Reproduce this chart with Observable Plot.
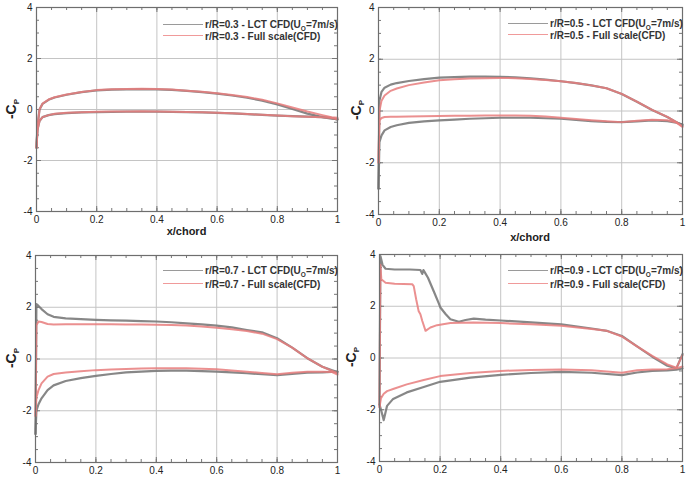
<!DOCTYPE html>
<html><head><meta charset="utf-8">
<script src="https://cdn.jsdelivr.net/npm/d3@7"></script>
<script src="https://cdn.jsdelivr.net/npm/@observablehq/plot@0.6"></script>
<style>
body{margin:0;background:#fff;}
#root{position:relative;width:690px;height:482px;overflow:hidden;font-family:"Liberation Sans",Arial,sans-serif;background:#fff;}
.panel{position:absolute;}
.ylab{position:absolute;transform:translate(-50%,-50%) rotate(-90deg);font-weight:bold;font-size:14px;color:#222;white-space:nowrap;}
.ylab sub{font-size:8px;}
.xlab{position:absolute;transform:translate(-50%,-50%);font-weight:bold;font-size:11px;color:#222;white-space:nowrap;}
.leg{position:absolute;font-size:10px;font-weight:bold;color:#333;white-space:nowrap;transform:translateY(-50%);}
.leg sub{font-size:6.5px;}
.legline{position:absolute;height:0;border-top:1px solid;}
</style>
</head><body>
<div id="root"></div>
<script>
// ---- data ----
const X = [0, 0.003, 0.01, 0.02, 0.04, 0.06, 0.1, 0.15, 0.2, 0.25, 0.3, 0.35, 0.4, 0.45, 0.5, 0.55, 0.6, 0.65, 0.7, 0.75, 0.8, 0.85, 0.9, 0.95, 0.98, 1.0];

// r/R = 0.3
const r03_lct_upper  = [-1.5, -0.7, 0.0, 0.22, 0.38, 0.47, 0.58, 0.68, 0.75, 0.78, 0.79, 0.8, 0.79, 0.77, 0.73, 0.68, 0.62, 0.55, 0.46, 0.35, 0.2, 0.02, -0.16, -0.3, -0.36, -0.38];
const r03_full_upper = [-1.5, -0.7, 0.0, 0.23, 0.39, 0.48, 0.59, 0.69, 0.76, 0.79, 0.8, 0.81, 0.8, 0.78, 0.74, 0.7, 0.64, 0.57, 0.49, 0.38, 0.24, 0.08, -0.08, -0.22, -0.3, -0.32];
const r03_lct_lower  = [-1.5, -0.8, -0.45, -0.3, -0.22, -0.18, -0.14, -0.11, -0.1, -0.09, -0.08, -0.08, -0.08, -0.09, -0.1, -0.11, -0.13, -0.15, -0.18, -0.21, -0.24, -0.26, -0.28, -0.3, -0.33, -0.4];
const r03_full_lower = [-1.5, -0.8, -0.45, -0.3, -0.22, -0.17, -0.13, -0.11, -0.09, -0.08, -0.08, -0.07, -0.08, -0.09, -0.1, -0.11, -0.13, -0.15, -0.18, -0.21, -0.24, -0.26, -0.28, -0.3, -0.33, -0.38];

// r/R = 0.5
const r05_lct_upper  = [-3.0, 0.4, 0.74, 0.9, 1.02, 1.08, 1.16, 1.23, 1.29, 1.31, 1.33, 1.33, 1.32, 1.3, 1.26, 1.21, 1.15, 1.08, 0.99, 0.88, 0.66, 0.36, 0.04, -0.23, -0.43, -0.55];
const r05_full_upper = [-2.0, 0.0, 0.4, 0.6, 0.78, 0.87, 1.0, 1.1, 1.19, 1.23, 1.26, 1.27, 1.28, 1.27, 1.24, 1.2, 1.15, 1.08, 0.99, 0.88, 0.66, 0.36, 0.04, -0.23, -0.43, -0.6];
const r05_lct_lower  = [-3.0, -1.2, -0.94, -0.75, -0.62, -0.55, -0.46, -0.4, -0.36, -0.33, -0.3, -0.28, -0.26, -0.26, -0.26, -0.28, -0.3, -0.34, -0.39, -0.42, -0.43, -0.4, -0.36, -0.39, -0.45, -0.52];
const r05_full_lower = [-2.0, -0.36, -0.27, -0.23, -0.22, -0.22, -0.21, -0.2, -0.19, -0.18, -0.18, -0.17, -0.17, -0.17, -0.18, -0.21, -0.26, -0.31, -0.36, -0.4, -0.43, -0.38, -0.34, -0.36, -0.45, -0.62];

// r/R = 0.7
const r07_lct_upper  = [-2.9, 2.12, 2.05, 1.93, 1.73, 1.63, 1.57, 1.54, 1.51, 1.49, 1.48, 1.46, 1.45, 1.42, 1.38, 1.34, 1.29, 1.22, 1.12, 1.03, 0.8, 0.44, 0.03, -0.3, -0.43, -0.5];
const r07_full_upper = [-2.2, 1.3, 1.45, 1.43, 1.35, 1.33, 1.34, 1.34, 1.34, 1.34, 1.33, 1.33, 1.32, 1.31, 1.29, 1.26, 1.21, 1.15, 1.08, 0.98, 0.77, 0.44, 0.03, -0.3, -0.45, -0.55];
const r07_lct_lower  = [-2.9, -2.0, -1.75, -1.52, -1.2, -1.02, -0.85, -0.74, -0.65, -0.58, -0.52, -0.49, -0.46, -0.45, -0.45, -0.47, -0.49, -0.52, -0.55, -0.59, -0.62, -0.58, -0.53, -0.52, -0.5, -0.49];
const r07_full_lower = [-2.2, -1.5, -1.2, -0.94, -0.68, -0.58, -0.52, -0.47, -0.43, -0.41, -0.39, -0.37, -0.36, -0.36, -0.36, -0.38, -0.4, -0.44, -0.49, -0.54, -0.59, -0.53, -0.49, -0.49, -0.5, -0.6];

// r/R = 0.9 (own x stations)
const X09_lct_upper  = [0, 0.003, 0.01, 0.02, 0.05, 0.1, 0.135, 0.141, 0.145, 0.15, 0.16, 0.18, 0.196, 0.201, 0.218, 0.234, 0.262, 0.284, 0.311, 0.35, 0.4, 0.5, 0.6, 0.7, 0.75, 0.8, 0.85, 0.9, 0.95, 0.98, 1.0];
const r09_lct_upper  = [-1.8, 3.94, 3.6, 3.45, 3.42, 3.42, 3.4, 3.25, 3.4, 3.3, 3.1, 2.55, 2.1, 1.95, 1.7, 1.5, 1.4, 1.47, 1.52, 1.48, 1.45, 1.38, 1.3, 1.14, 1.05, 0.85, 0.45, 0.05, -0.3, -0.4, 0.15];
const X09_full_upper = [0, 0.003, 0.006, 0.02, 0.05, 0.108, 0.113, 0.121, 0.129, 0.135, 0.141, 0.152, 0.168, 0.19, 0.234, 0.31, 0.4, 0.5, 0.6, 0.7, 0.75, 0.8, 0.85, 0.9, 0.95, 0.98, 1.0];
const r09_full_upper = [-1.9, 3.6, 3.04, 2.91, 2.87, 2.85, 2.78, 2.27, 1.82, 1.69, 1.44, 1.05, 1.18, 1.27, 1.35, 1.37, 1.35, 1.3, 1.25, 1.12, 1.05, 0.83, 0.45, 0.08, -0.25, -0.37, 0.1];
const X09_lower      = [0, 0.005, 0.014, 0.025, 0.045, 0.09, 0.146, 0.2, 0.3, 0.4, 0.5, 0.6, 0.7, 0.8, 0.85, 0.9, 0.95, 0.98, 1.0];
const r09_lct_lower  = [-1.8, -2.0, -2.4, -1.85, -1.58, -1.33, -1.12, -0.92, -0.76, -0.65, -0.58, -0.54, -0.57, -0.66, -0.56, -0.5, -0.48, -0.45, -0.4];
const r09_full_lower = [-1.9, -1.55, -1.38, -1.28, -1.2, -1.02, -0.85, -0.7, -0.58, -0.5, -0.46, -0.44, -0.47, -0.57, -0.47, -0.44, -0.43, -0.4, -0.33];

const radii = ["0.3", "0.5", "0.7", "0.9"];
const xTicks = [0, 0.2, 0.4, 0.6, 0.8, 1];
const yTicks = [-4, -2, 0, 2, 4];
const xMinor = d3.range(0, 1.0001, 0.05);
const yMinor = d3.range(-4, 4.0001, 0.5);
const COL_LCT = "#7a7a7a", COL_FULL = "#e77c7c";

function rows(xs, ys, key) { return xs.map((x, i) => ({x, y: ys[i], key})); }

const panels = [
  {r: radii[0], left: 0, top: 0, m: [7, 8, 30, 36],
   lct: [...rows(X, r03_lct_upper, "u"), ...rows(X, r03_lct_lower, "l")],
   full: [...rows(X, r03_full_upper, "u"), ...rows(X, r03_full_lower, "l")],
   xlabY: 231, ylab: [12, 109], leg: [163, 24, 35]},
  {r: radii[1], left: 345, top: 0, m: [7, 8, 27, 33],
   lct: [...rows(X, r05_lct_upper, "u"), ...rows(X, r05_lct_lower, "l")],
   full: [...rows(X, r05_full_upper, "u"), ...rows(X, r05_full_lower, "l")],
   xlabY: 237, ylab: [357, 110], leg: [508, 23, 34]},
  {r: radii[2], left: 0, top: 241, m: [14, 8, 20, 35],
   lct: [...rows(X, r07_lct_upper, "u"), ...rows(X, r07_lct_lower, "l")],
   full: [...rows(X, r07_full_upper, "u"), ...rows(X, r07_full_lower, "l")],
   xlabY: 486, ylab: [12, 358], leg: [163, 270, 283]},
  {r: radii[3], left: 345, top: 241, m: [13, 8, 21, 34],
   lct: [...rows(X09_lct_upper, r09_lct_upper, "u"), ...rows(X09_lower, r09_lct_lower, "l")],
   full: [...rows(X09_full_upper, r09_full_upper, "u"), ...rows(X09_lower, r09_full_lower, "l")],
   xlabY: 486, ylab: [352, 357], leg: [508, 270, 283]}
];

const root = document.getElementById("root");
const W = 345, H = 241;

for (const p of panels) {
  const [mt, mr, mb, ml] = p.m;
  const pw = W - ml - mr, ph = H - mt - mb;
  const tickC = "#777";
  const chart = Plot.plot({
    width: W, height: H,
    marginTop: mt, marginRight: mr, marginBottom: mb, marginLeft: ml,
    style: {fontFamily: "Liberation Sans, Arial, sans-serif", fontSize: "10px", color: "#222", background: "transparent"},
    x: {domain: [0, 1]},
    y: {domain: [-4, 4]},
    marks: [
      Plot.gridX([0.2, 0.4, 0.6, 0.8], {stroke: "#c4c4c4", strokeOpacity: 1}),
      Plot.gridY([-2, 0, 2], {stroke: "#c4c4c4", strokeOpacity: 1}),
      // inward minor/major ticks
      Plot.ruleX(xMinor, {x: d => d, insetTop: ph - 3, stroke: tickC}),
      Plot.ruleX(xMinor, {x: d => d, insetBottom: ph - 3, stroke: tickC}),
      Plot.ruleX(xTicks, {x: d => d, insetTop: ph - 5, stroke: tickC}),
      Plot.ruleX(xTicks, {x: d => d, insetBottom: ph - 5, stroke: tickC}),
      Plot.ruleY(yMinor, {y: d => d, insetRight: pw - 3, stroke: tickC}),
      Plot.ruleY(yMinor, {y: d => d, insetLeft: pw - 3, stroke: tickC}),
      Plot.ruleY(yTicks, {y: d => d, insetRight: pw - 5, stroke: tickC}),
      Plot.ruleY(yTicks, {y: d => d, insetLeft: pw - 5, stroke: tickC}),
      Plot.line(p.lct, {x: "x", y: "y", z: "key", stroke: COL_LCT, strokeWidth: 2.2, strokeOpacity: 0.9}),
      Plot.line(p.full, {x: "x", y: "y", z: "key", stroke: COL_FULL, strokeWidth: 2, strokeOpacity: 0.85}),
      Plot.frame({stroke: "#6e6e6e", strokeWidth: 1.2}),
      Plot.axisX(xTicks, {tickSize: 0, tickPadding: 4, tickFormat: d => String(d), label: null}),
      Plot.axisY(yTicks, {tickSize: 0, tickPadding: 4, tickFormat: d => String(d), label: null})
    ]
  });
  chart.classList.add("panel");
  chart.style.left = p.left + "px";
  chart.style.top = p.top + "px";
  root.appendChild(chart);

  // axis titles
  const xl = document.createElement("div");
  xl.className = "xlab";
  xl.textContent = "x/chord";
  xl.style.left = (p.left + ml + pw / 2) + "px";
  xl.style.top = p.xlabY + "px";
  root.appendChild(xl);

  const yl = document.createElement("div");
  yl.className = "ylab";
  yl.innerHTML = "-C<sub>P</sub>";
  yl.style.left = p.ylab[0] + "px";
  yl.style.top = p.ylab[1] + "px";
  root.appendChild(yl);

  // legend
  const entries = [
    {c: "#9a9a9a", html: `r/R=${p.r} - LCT CFD(U<sub>O</sub>=7m/s)`, y: p.leg[1]},
    {c: "#f09a9a", html: `r/R=${p.r} - Full scale(CFD)`, y: p.leg[2]}
  ];
  for (const e of entries) {
    const ln = document.createElement("div");
    ln.className = "legline";
    ln.style.left = p.leg[0] + "px";
    ln.style.width = "40px";
    ln.style.top = e.y + "px";
    ln.style.borderColor = e.c;
    root.appendChild(ln);
    const t = document.createElement("div");
    t.className = "leg";
    t.innerHTML = e.html;
    t.style.left = (p.leg[0] + 42) + "px";
    t.style.top = (e.y + 1) + "px";
    root.appendChild(t);
  }
}
</script>
</body></html>
